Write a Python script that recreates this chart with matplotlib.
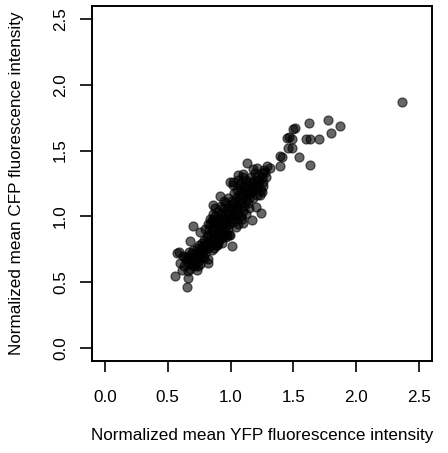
import numpy as np
import matplotlib
matplotlib.use('Agg')
import matplotlib.pyplot as plt

plt.rcParams['font.family'] = ['Liberation Sans', 'DejaVu Sans']

# scattered points around the main band
yfp_outer = [2.367, 1.773, 1.624, 1.874, 1.800, 1.707, 1.632, 1.600, 1.513, 1.500,
             1.465, 1.452, 1.487, 1.459, 1.491, 1.547, 1.632, 1.393, 1.412, 1.391,
             1.311, 1.292, 1.268, 1.213, 1.128, 1.247, 1.192, 1.101, 1.062, 0.998,
             1.022, 1.255, 1.247, 1.181, 1.234, 1.123, 0.916, 0.862, 1.245, 1.173,
             1.200, 1.101, 0.703, 0.679, 1.009, 0.995, 0.894, 0.823, 0.820, 0.571,
             0.592, 0.597, 0.610, 0.556, 0.656, 0.659, 0.730, 0.651, 0.756, 0.849]
cfp_outer = [1.870, 1.730, 1.710, 1.685, 1.636, 1.591, 1.586, 1.591, 1.670, 1.664,
             1.606, 1.594, 1.586, 1.522, 1.522, 1.449, 1.393, 1.459, 1.449, 1.383,
             1.365, 1.385, 1.352, 1.370, 1.403, 1.332, 1.327, 1.322, 1.317, 1.263,
             1.259, 1.233, 1.187, 1.200, 1.162, 1.187, 1.157, 1.086, 1.025, 0.970,
             1.073, 0.947, 0.926, 0.814, 0.776, 0.858, 0.782, 0.642, 0.673, 0.723,
             0.728, 0.647, 0.591, 0.548, 0.460, 0.528, 0.591, 0.680, 0.883, 0.972]

# dense core of the cloud
yfp_core = [0.63, 0.65, 0.66, 0.67, 0.68, 0.69, 0.70, 0.70, 0.71, 0.72,
            0.72, 0.73, 0.73, 0.74, 0.74, 0.75, 0.75, 0.76, 0.76, 0.77,
            0.77, 0.78, 0.78, 0.79, 0.79, 0.80, 0.80, 0.81, 0.81, 0.82,
            0.68, 0.71, 0.66, 0.64, 0.69, 0.74, 0.62, 0.67, 0.76, 0.79,
            0.82, 0.83, 0.83, 0.84, 0.84, 0.85, 0.85, 0.86, 0.86, 0.86,
            0.87, 0.87, 0.88, 0.88, 0.88, 0.89, 0.89, 0.90, 0.90, 0.90,
            0.91, 0.91, 0.92, 0.92, 0.92, 0.93, 0.93, 0.94, 0.94, 0.94,
            0.95, 0.95, 0.96, 0.96, 0.96, 0.97, 0.97, 0.97, 0.98, 0.98,
            0.98, 0.99, 0.99, 1.00, 1.00, 0.85, 0.87, 0.89, 0.91, 0.93,
            0.84, 0.88, 0.80, 0.82, 0.95, 0.99, 0.96, 0.90, 0.86, 0.92,
            1.01, 1.01, 1.02, 1.02, 1.03, 1.03, 1.03, 1.04, 1.04, 1.05,
            1.05, 1.05, 1.06, 1.06, 1.07, 1.07, 1.07, 1.08, 1.08, 1.08,
            1.09, 1.09, 1.10, 1.10, 1.11, 1.11, 1.12, 1.12, 1.13, 1.13,
            1.14, 1.14, 1.15, 1.15, 1.16, 1.16, 1.17, 1.18, 1.18, 1.19,
            1.20, 1.20, 1.21, 1.22, 1.22, 1.23, 1.24, 1.25, 1.26, 1.27,
            1.28, 1.04, 1.06, 1.09, 1.12, 1.15, 1.02, 1.06, 1.10, 1.18]
cfp_core = [0.62, 0.66, 0.70, 0.64, 0.68, 0.72, 0.66, 0.74, 0.70, 0.62,
            0.68, 0.72, 0.76, 0.66, 0.70, 0.74, 0.78, 0.68, 0.72, 0.76,
            0.80, 0.70, 0.74, 0.78, 0.82, 0.72, 0.76, 0.80, 0.84, 0.76,
            0.60, 0.64, 0.58, 0.68, 0.63, 0.62, 0.70, 0.73, 0.64, 0.68,
            0.86, 0.80, 0.90, 0.84, 0.94, 0.78, 0.88, 0.82, 0.92, 0.98,
            0.86, 0.96, 0.80, 0.90, 1.00, 0.84, 0.94, 0.88, 0.98, 1.04,
            0.82, 0.92, 0.86, 0.96, 1.02, 0.90, 1.00, 0.84, 0.94, 1.06,
            0.88, 0.98, 0.92, 1.02, 1.10, 0.86, 0.96, 1.06, 0.90, 1.00,
            1.14, 0.94, 1.04, 0.98, 1.08, 0.74, 0.76, 0.78, 0.86, 0.80,
            0.98, 1.06, 0.90, 0.94, 1.12, 0.86, 0.84, 0.80, 1.02, 1.08,
            1.02, 1.12, 0.96, 1.06, 1.00, 1.10, 1.18, 1.04, 1.14, 0.98,
            1.08, 1.20, 1.02, 1.12, 1.06, 1.16, 1.24, 1.00, 1.10, 1.20,
            1.14, 1.26, 1.04, 1.18, 1.08, 1.22, 1.12, 1.28, 1.16, 1.24,
            1.10, 1.20, 1.14, 1.26, 1.18, 1.30, 1.22, 1.14, 1.26, 1.20,
            1.24, 1.30, 1.16, 1.22, 1.28, 1.26, 1.20, 1.30, 1.26, 1.34,
            1.30, 0.92, 0.94, 0.98, 1.02, 1.06, 1.24, 1.28, 1.30, 1.36]

yfp = np.array(yfp_outer + yfp_core)
cfp = np.array(cfp_outer + cfp_core)

ticks = [0.0, 0.5, 1.0, 1.5, 2.0, 2.5]
tick_labels = ['0.0', '0.5', '1.0', '1.5', '2.0', '2.5']

fig = plt.figure(figsize=(4.48, 4.53), dpi=100)
ax = fig.add_axes([0.206, 0.2035, 0.7576, 0.783])

ax.scatter(yfp, cfp, s=42, facecolor=(0, 0, 0, 0.6), edgecolor=(0, 0, 0, 0.6),
           linewidths=0.9, zorder=3)

ax.set_xlim(-0.1, 2.6)
ax.set_ylim(-0.1, 2.6)
ax.set_xticks(ticks)
ax.set_xticklabels(tick_labels)
ax.set_yticks(ticks)
ax.set_yticklabels(tick_labels, rotation=90, va='center')

for s in ax.spines.values():
    s.set_linewidth(1.4)
ax.tick_params(axis='x', direction='out', length=8, width=1.2, labelsize=12.3, pad=13)
ax.tick_params(axis='y', direction='out', length=8.5, width=1.2, labelsize=12.3, pad=9)

ax.set_xlabel('Normalized mean YFP fluorescence intensity', fontsize=12.3)
ax.set_ylabel('Normalized mean CFP fluorescence intensity', fontsize=12.3)
ax.xaxis.set_label_coords(0.5, -0.19)
ax.yaxis.set_label_coords(-0.2, 0.5)

fig.savefig('out.png', dpi=100)
